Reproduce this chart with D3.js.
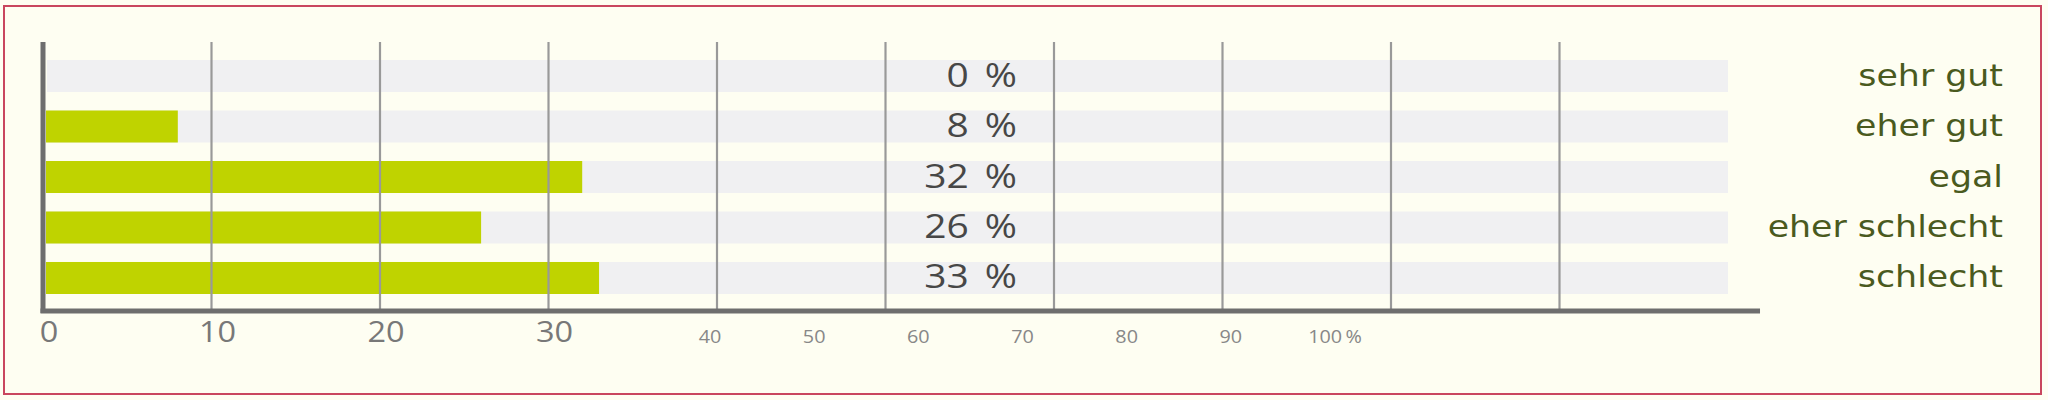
<!DOCTYPE html>
<html>
<head>
<meta charset="utf-8">
<script src="https://cdn.jsdelivr.net/npm/d3@7"></script>
<style>
html,body{margin:0;padding:0;background:#fefef2;}
svg{display:block;}
</style>
</head>
<body>
<svg id="chart" width="2048" height="400"></svg>
<script>
// ---- data ----
const categories = ["sehr gut", "eher gut", "egal", "eher schlecht", "schlecht"];
const values = [0, 8, 32, 26, 33];
const gridTicks = [10, 20, 30, 40, 50, 60, 70, 80, 90];
const bigTickLabels = [0, 10, 20, 30];
const smallTickLabels = [40, 50, 60, 70, 80, 90, 100];

// ---- drawing ----
const svg = d3.select("#chart");
const W = 2048, H = 400;

svg.append("rect").attr("x", 0).attr("y", 0).attr("width", W).attr("height", H).attr("fill", "#fefef2");
svg.append("rect").attr("x", 4).attr("y", 6).attr("width", 2037).attr("height", 388)
  .attr("fill", "none").attr("stroke", "#c9475f").attr("stroke-width", 2);

const x = d3.scaleLinear().domain([0, 100]).range([43, 1728]);
const xSmall = d3.scaleLinear().domain([40, 100]).range([710, 1335]);
const y = d3.scaleBand().domain(categories).range([60, 294]).paddingInner(0.366).paddingOuter(0);

// background bands
svg.append("g").selectAll("rect").data(categories).join("rect")
  .attr("x", x(0) + 4).attr("y", d => y(d))
  .attr("width", x(100) - x(0) - 4).attr("height", y.bandwidth())
  .attr("fill", "#f0f0f2");

// value bars
svg.append("g").selectAll("rect").data(values).join("rect")
  .attr("x", x(0) + 3).attr("y", (d, i) => y(categories[i]))
  .attr("width", d => Math.max(0, x(d) - x(0) - 3)).attr("height", y.bandwidth())
  .attr("fill", "#bfd300");

// gridlines
svg.append("g").selectAll("line").data(gridTicks).join("line")
  .attr("x1", d => x(d)).attr("x2", d => x(d))
  .attr("y1", 42).attr("y2", 310)
  .attr("stroke", "#999999").attr("stroke-width", 2.2);

// axes
svg.append("line").attr("x1", x(0)).attr("x2", x(0)).attr("y1", 42).attr("y2", 313)
  .attr("stroke", "#6e6e6e").attr("stroke-width", 5);
svg.append("line").attr("x1", x(0) - 2.5).attr("x2", x(101.9)).attr("y1", 311).attr("y2", 311)
  .attr("stroke", "#6e6e6e").attr("stroke-width", 5);

// big tick labels
svg.append("g").selectAll("text").data(bigTickLabels).join("text")
  .attr("transform", d => `translate(${x(d) + 6},342) scale(1.12,1)`)
  .attr("text-anchor", "middle")
  .attr("font-family", "'Open Sans', sans-serif").attr("font-size", 29)
  .attr("fill", "#787878")
  .text(d => d);

// small tick labels
svg.append("g").selectAll("text").data(smallTickLabels).join("text")
  .attr("transform", d => `translate(${xSmall(d)},343) scale(1.1,1)`)
  .attr("text-anchor", "middle")
  .attr("font-family", "'Open Sans', sans-serif").attr("font-size", 18)
  .attr("fill", "#888888")
  .text(d => d === 100 ? "100\u2009%" : d);

// value labels
const vl = svg.append("g").selectAll("text").data(values).join("text")
  .attr("transform", (d, i) => `translate(1017,${y(categories[i]) + y.bandwidth() / 2 + 10.5}) scale(1.18,1)`)
  .attr("text-anchor", "end")
  .attr("font-family", "'Open Sans', sans-serif").attr("font-size", 33)
  .attr("fill", "#474747")
  .text(d => `${d} `);
vl.append("tspan").attr("dx", 5).text("%");

// category labels
svg.append("g").selectAll("text").data(categories).join("text")
  .attr("transform", d => `translate(2003,${y(d) + y.bandwidth() / 2 + 9.5}) scale(1.16,1)`)
  .attr("text-anchor", "end")
  .attr("font-family", "'DejaVu Sans', sans-serif").attr("font-size", 30)
  .attr("fill", "#4a5a1e")
  .text(d => d);
</script>
</body>
</html>
